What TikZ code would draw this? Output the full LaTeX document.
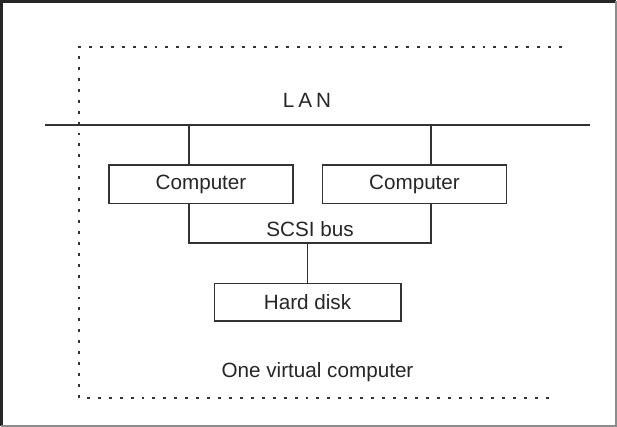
\documentclass[tikz,border=0pt]{standalone}
\usepackage{fontspec}
\setmainfont{Liberation Sans}
\begin{document}
\begin{tikzpicture}[x=0.75pt, y=-0.75pt,
	box/.style={draw=black!80, line width=1pt, minimum width=138pt, minimum height=29pt, inner sep=0pt, font=\fontsize{15.5}{17}\selectfont, text=black!85},
	label/.style={font=\fontsize{15.5}{17}\selectfont, text=black!85},
	wire/.style={line width=1pt, black!80},
	virtual/.style={line width=1.4pt, black!80, dash pattern=on 2.2pt off 6pt}]
	\useasboundingbox (0,0) rectangle (617,427);
	% frame
	\draw[black!85, line width=2.5pt] (1,426) -- (1,1) -- (616,1);
	\draw[black!45, line width=1pt] (616,1) -- (616,426) -- (1,426);
	
	% the one virtual computer
	\draw[virtual] (562,47) -- (79,47) -- (79,398) -- (555,398);
	\node[label] (virt) at (317.5,372){One virtual computer};
	
	% LAN
	\coordinate (lanL) at (45,125);
	\coordinate (lanR) at (590,125);
	\draw[line width=1.6pt, black!80] (lanL) -- (lanR);
	\node[label] (lan) at (307,100){L\kern3pt A\kern3pt N};
	
	\node[box] (comp1) at (201,184.5){Computer};
	\node[box] (comp2) at (414.5,184.5){Computer};
	\node[box, minimum width=140pt, minimum height=28pt] (disk) at (307.5,302.5){Hard disk};
	
	\coordinate (tapL) at (189,125);
	\coordinate (tapR) at (431,125);
	\draw[wire] (tapL) -- (tapL |- comp1.north);
	\draw[wire] (tapR) -- (tapR |- comp2.north);
	
	% SCSI bus
	\coordinate (busL) at (189,243);
	\coordinate (busR) at (431,243);
	\draw[wire] (busL |- comp1.south) -- (busL) -- (busR) -- (busR |- comp2.south);
	\draw[wire] (disk.north |- busL) -- (disk.north);
	\node[label] (scsi) at (310,229){SCSI bus};
\end{tikzpicture}
\end{document}
